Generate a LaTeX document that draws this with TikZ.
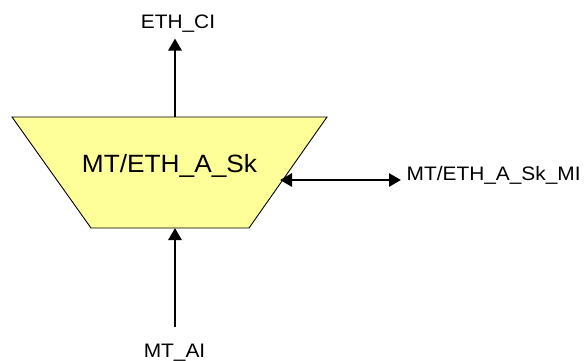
\documentclass[tikz,border=0pt]{standalone}
\usepackage{fontspec}
\setmainfont{Liberation Sans}
\usetikzlibrary{arrows.meta}
\definecolor{blockfill}{HTML}{FFFF99}
\tikzset{
  tip/.style={},
  conn/.style={line width=2.8pt, -{Triangle[length=12pt,width=13pt]}},
  dconn/.style={line width=2.8pt, {Triangle[length=12pt,width=13pt]}-{Triangle[length=12pt,width=13pt]}},
  lbl/.style={inner sep=0pt, font=\fontsize{19.5}{22}\selectfont},
  mainlbl/.style={inner sep=0pt, font=\fontsize{25}{28}\selectfont},
}
\begin{document}
\begin{tikzpicture}[x=1pt,y=1pt]
\useasboundingbox (0,0) rectangle (584,-360);
% trapezoid block
\draw[fill=blockfill, line width=0.9pt] (12,-117) -- (327,-117) -- (249,-228) -- (91,-228) -- cycle;
\node[mainlbl, anchor=base] (blk) at (169.5,-172.3) {\scalebox{1.05}[1]{MT/ETH\_A\_Sk}};
% connection points
\coordinate (topin) at (175,-117);
\coordinate (botin) at (175,-228);
\coordinate (rin) at (280,-180);
\coordinate (topend) at (175,-38.5);
\coordinate (botend) at (175,-327);
\coordinate (rend) at (401,-180);
% labels
\node[lbl, anchor=base] (ethci) at (178,-28.3) {\scalebox{1.07}[1]{ETH\_CI}};
\node[lbl, anchor=base] (mtai) at (174.5,-357.3) {\scalebox{1.07}[1]{MT\_AI}};
\node[lbl, anchor=base west] (mi) at (406.5,-180.7) {\scalebox{1.07}[1]{MT/ETH\_A\_Sk\_MI}};
% connectors
\draw[conn] (topin) -- (topend);
\draw[conn] (botend) -- (botin);
\draw[dconn] (rin) -- (rend);
\end{tikzpicture}
\end{document}
